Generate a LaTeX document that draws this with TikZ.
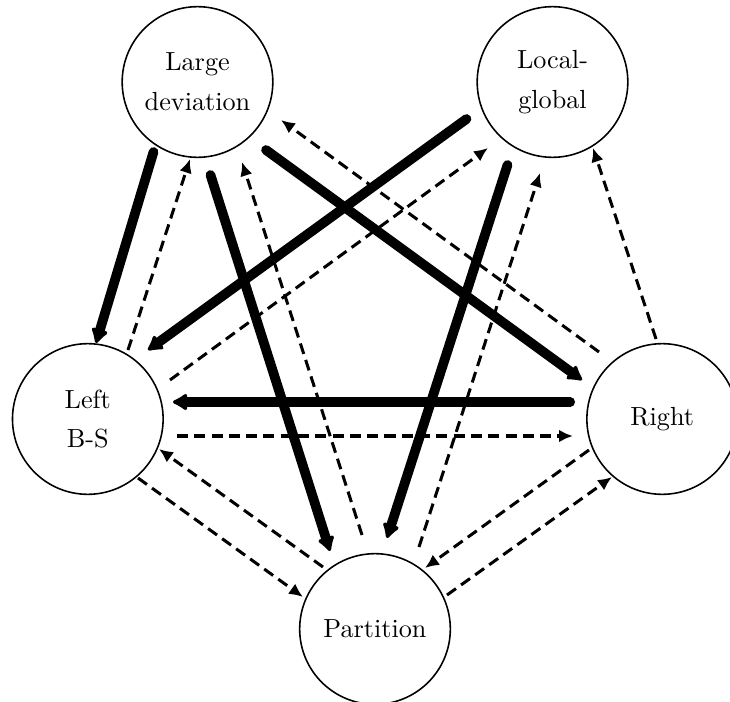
\documentclass[tikz,border=0pt]{standalone}
\usetikzlibrary{arrows.meta,calc}
\begin{document}
\begin{tikzpicture}[x=0.3817pt,y=-0.3817pt,
  state/.style={circle,draw,line width=0.6pt,minimum size=57.5pt,inner sep=0pt,align=center,
    font=\fontsize{10}{15.2}\selectfont},
  strong/.style={line width=3.7pt,line cap=round,-{Latex[round,length=6.5pt,width=7.8pt]}},
  weak/.style={line width=1.15pt,dash pattern=on 4.2pt off 2.4pt,-{Latex[length=5.3pt,width=4.8pt]}}]
\useasboundingbox (0,0) rectangle (730,702);
\node[state] (LD) at (197.5,82) {Large\\deviation};
\node[state] (LG) at (552.5,82) {Local-\\global};
\node[state] (L) at (87.8,419) {Left\\B-S};
\node[state] (R) at (662.2,419) {Right};
\node[state] (P) at (375,629) {Partition};
% strong arrows
\draw[strong] ($(LD)+(-44,70)$) -- ($(L)+(8.2,-76)$);
\draw[strong] ($(LD)+(13,93)$) -- ($(P)+(-45,-78)$);
\draw[strong] ($(LD)+(68.5,68)$) -- ($(R)+(-80.2,-39)$);
\draw[strong] ($(LG)+(-86,37)$) -- ($(L)+(60.2,-69)$);
\draw[strong] ($(LG)+(-45,83)$) -- ($(P)+(12,-91)$);
\draw[strong] ($(R)+(-92,-17)$) -- ($(L)+(85.2,-17)$);
% weak arrows
\draw[weak] ($(L)+(40.2,-69)$) -- ($(LD)+(-7.5,77)$);
\draw[weak] ($(P)+(-13,-94)$) -- ($(LD)+(44.5,80)$);
\draw[weak] ($(R)+(-63.2,-67)$) -- ($(LD)+(83.5,38)$);
\draw[weak] ($(L)+(82.2,-39)$) -- ($(LG)+(-64.5,66)$);
\draw[weak] ($(P)+(44,-82)$) -- ($(LG)+(-12.5,91)$);
\draw[weak] ($(R)+(-6.2,-80)$) -- ($(LG)+(40.5,66)$);
\draw[weak] ($(L)+(89.2,17)$) -- ($(R)+(-89.2,17)$);
\draw[weak] ($(R)+(-73.2,31)$) -- ($(P)+(50,-61)$);
\draw[weak] ($(P)+(72,-34)$) -- ($(R)+(-50.2,58)$);
\draw[weak] ($(P)+(-52,-62)$) -- ($(L)+(71.2,30)$);
\draw[weak] ($(L)+(50.2,59)$) -- ($(P)+(-72,-32)$);
\end{tikzpicture}
\end{document}
